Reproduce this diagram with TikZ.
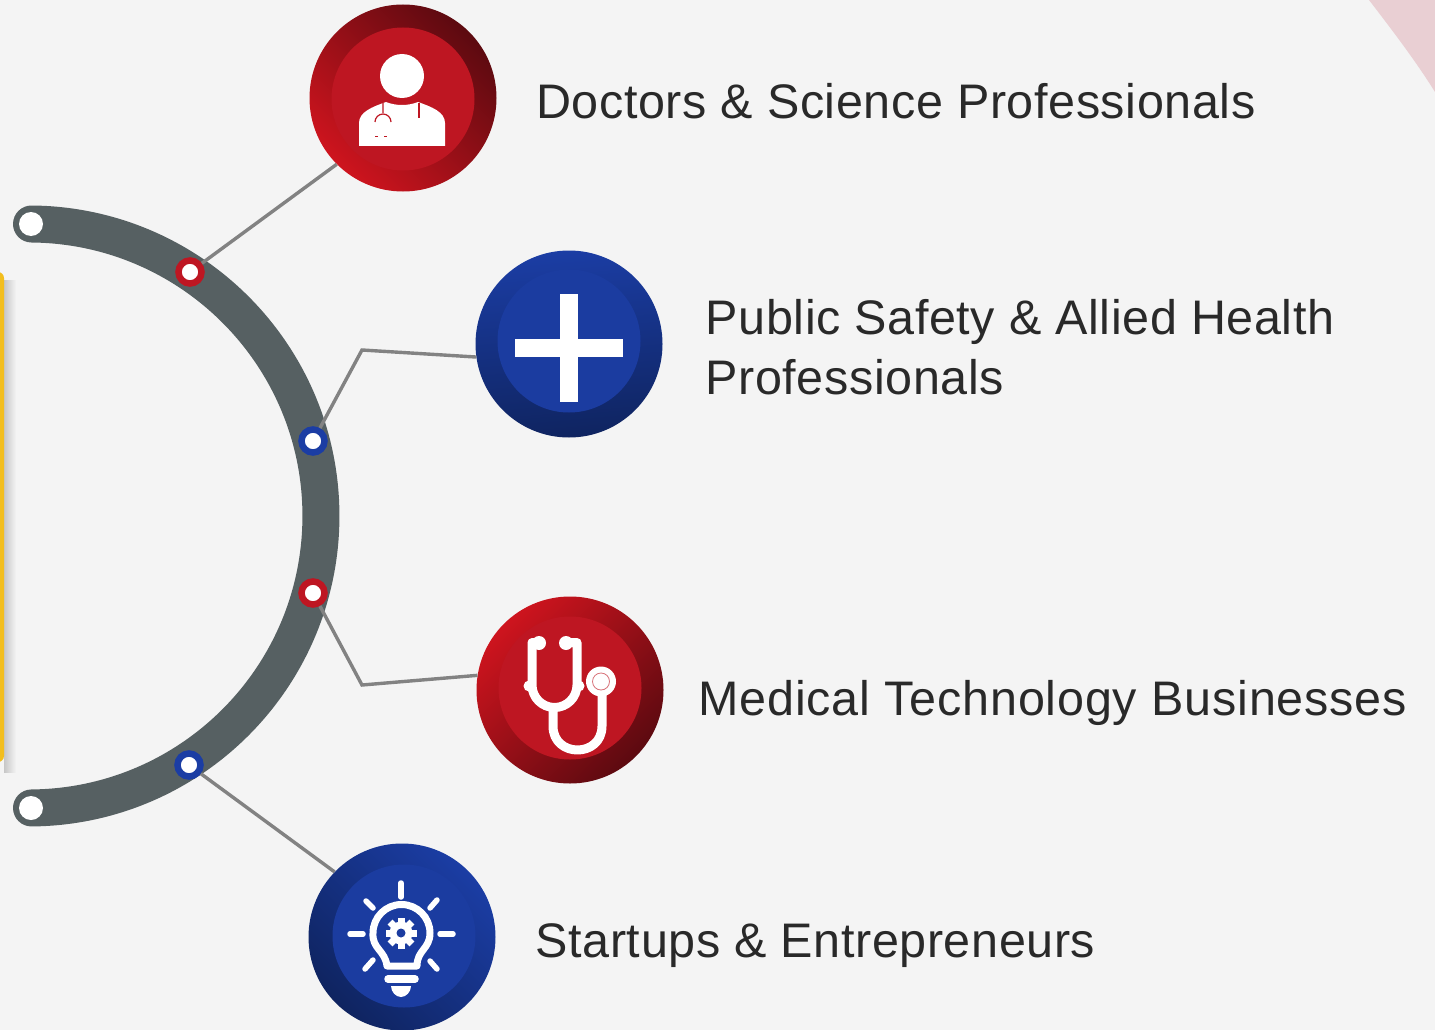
\documentclass[tikz,border=0pt]{standalone}
\usepackage{fontspec}
\setmainfont[LetterSpace=1.2]{Liberation Sans}
\newfontfamily\widerfont[LetterSpace=1.7]{Liberation Sans}
\usetikzlibrary{calc}
\definecolor{bgc}{HTML}{F4F4F4}
\definecolor{ringc}{HTML}{566062}
\definecolor{linec}{HTML}{828282}
\definecolor{redm}{HTML}{BE1622}
\definecolor{redb}{HTML}{CE141E}
\definecolor{redd}{HTML}{5C0A10}
\definecolor{blum}{HTML}{1B3CA0}
\definecolor{blub}{HTML}{1B3DA4}
\definecolor{blud}{HTML}{0F2460}
\definecolor{pinkc}{HTML}{E9CFD3}
\definecolor{yelc}{HTML}{F2BE1E}
\tikzset{
 x=1pt,y=-1pt,
 disc/.style={circle,inner sep=0pt,minimum size=#1},
 outerdisc/.style={disc=187pt},
 innerdisc/.style={disc=143pt},
 marker/.style n args={1}{circle,inner sep=0pt,minimum size=23pt,draw=#1,line width=6.5pt,fill=white},
 holec/.style={circle,inner sep=0pt,minimum size=24pt,fill=white,draw=none},
 conn/.style={draw=linec,line width=3.4pt,line join=miter},
 label/.style={anchor=west,align=left,inner sep=0pt,font=\fontsize{48.5}{60}\selectfont,text=black!84},
 iconw/.style={draw=white,line cap=round,line join=round},
}
\begin{document}
\begin{tikzpicture}
\useasboundingbox (0,0) rectangle (1435,1030);
\fill[bgc] (0,0) rectangle (1435,1030);
\fill[pinkc] (1369,0) .. controls (1392,30) and (1415,60) .. (1435,92) -- (1435,0) -- cycle;
% yellow panel edge with its soft shadow
\shade[left color=black!22,right color=bgc] (4,280) rectangle (16,772);
\fill[yelc,rounded corners=6pt] (-30,272) rectangle (4,762);
% curved band
\draw[ringc,line width=37pt,line cap=round] (31.5,224) arc[start angle=-89.5,end angle=89.5,radius=292];
% nodes
\node[outerdisc,top color=redd,bottom color=redb,shading angle=-45] (c1) at (403,98) {};
\node[outerdisc,top color=blub,bottom color=blud,shading angle=5] (c2) at (569,344) {};
\node[outerdisc,top color=redb,bottom color=redd,shading angle=45] (c3) at (570,690) {};
\node[outerdisc,top color=blub,bottom color=blud,shading angle=-45] (c4) at (402,937) {};
\node[innerdisc,fill=redm] (i1) at (403,99) {};
\node[innerdisc,fill=blum] (i2) at (569,341) {};
\node[innerdisc,fill=redm] (i3) at (570,688) {};
\node[innerdisc,fill=blum] (i4) at (404,936) {};
\node[holec] (e1) at (31,224) {};
\node[holec] (e2) at (31,808) {};
\node[marker=redm] (m1) at (190,272) {};
\node[marker=blub] (m2) at (313,441) {};
\node[marker=redm] (m3) at (313,593) {};
\node[marker=blub] (m4) at (189,765) {};
\coordinate (k2) at (362,350);
\coordinate (k3) at (362,685);
% connectors
\draw[conn] (m1) -- (c1.225);
\draw[conn] (m2) -- (k2) -- (c2.188.6);
\draw[conn] (m3) -- (k3) -- (c3.171);
\draw[conn] (m4) -- (c4.136);
% doctor icon
\fill[white] (402,76) circle[radius=22];
\fill[white] (359,146) -- (359,123) .. controls (359,112) and (372,107) .. (386,102) .. controls (396,106) and (408,106) .. (418,102) .. controls (432,107) and (445,112) .. (445,123) -- (445,146) -- cycle;
\draw[redm,line width=1.2pt] (383,103) -- (383,113) (375,122) arc[start angle=180,end angle=360,radius=8];
\draw[redm,line width=1.2pt] (419,103) -- (419,118);
\draw[redm,line width=.9pt,dash pattern=on 3pt off 6pt] (375,136) -- (392,136);
% plus icon
\fill[white] (560,294) rectangle (578,402);
\fill[white] (515,339) rectangle (623,357);
% stethoscope icon
\draw[iconw,line width=9pt] (539,642.5) -- (532,642.5) -- (532,685) arc[start angle=180,end angle=0,radius=22.5] -- (577,642.5) -- (566,642.5);
\fill[white] (539,643) circle[radius=7] (566,643) circle[radius=7] (529,686) circle[radius=5.5] (579,686) circle[radius=5.5];
\draw[iconw,line width=9pt] (553,708) -- (553,726) .. controls (553,758) and (602,758) .. (602,726) -- (602,693);
\fill[white] (601,681.5) circle[radius=15];
\draw[redm!60,line width=.8pt] (601,681.5) circle[radius=8.5];
% bulb icon
\draw[iconw,line width=7pt] (387,966) -- (417,966) .. controls (417,950) and (430,949) .. (430,933) arc[start angle=0,end angle=-180,radius=28.5] .. controls (372,949) and (385,950) .. (387,966);
\foreach \a/\b/\c/\d in {401/883/401/897,366/901/373/908,437/900/430/908,350/934/363/934,440/934/453/934,365/969/373/960,437/969/430/961}{
 \draw[iconw,line width=5.5pt] (\a,\b) -- (\c,\d);}
\draw[iconw,line width=7.5pt] (388,979) -- (415,979);
\fill[white] (391,986) -- (411,986) .. controls (411,992) and (406,997) .. (401,997) .. controls (396,997) and (391,992) .. (391,986) -- cycle;
\fill[white] (401,933) circle[radius=11.5];
\foreach \r in {0,45,...,315}{
 \fill[white,rotate around={\r:(401,933)}] (397.5,917.5) rectangle (404.5,925);}
\fill[blum] (401,933) circle[radius=4.5];
% labels
\node[label] (t1) at (536,101) {Doctors \& Science Professionals};
\node[label] (t2) at (705.5,347) {Public Safety \& Allied Health\\Professionals};
\node[label,font=\widerfont\fontsize{48.5}{60}\selectfont] (t3) at (698,703) {Medical Technology Businesses};
\node[label] (t4) at (535.5,946) {Startups \& Entrepreneurs};
\end{tikzpicture}
\end{document}
